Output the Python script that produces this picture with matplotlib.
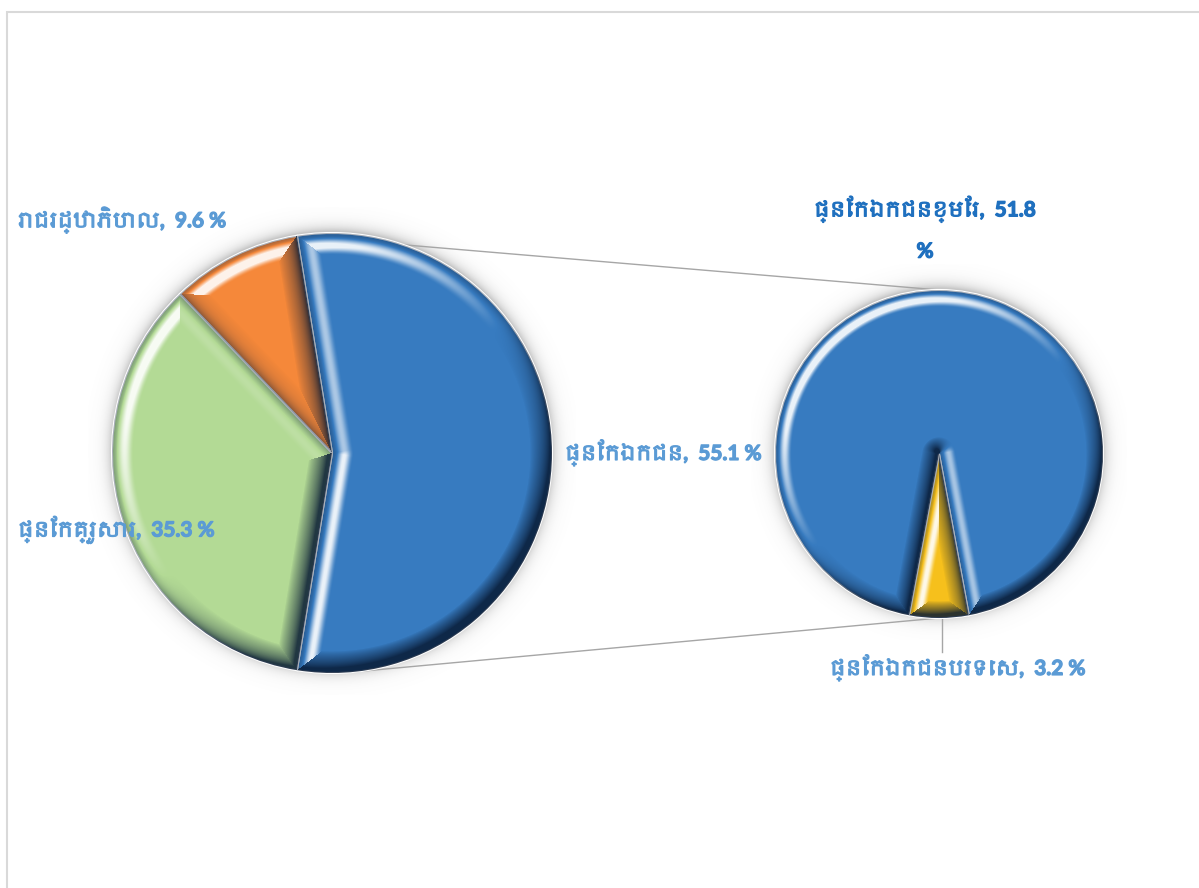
import numpy as np
import matplotlib
matplotlib.use("Agg")
import matplotlib.pyplot as plt
import matplotlib.patheffects as pe
from matplotlib import font_manager
from matplotlib.ft2font import FT2Font
from matplotlib.patches import Rectangle

# ចំណែកនៃការវិនិយោគ (%)
main_labels = ["ផ្នែកឯកជន", "រាជរដ្ឋាភិបាល", "ផ្នែកគ្រួសារ"]
main_values = [55.1, 9.6, 35.3]
main_colors = ["#377BC0", "#F5883A", "#B3DA95"]

sub_labels = ["ផ្នែកឯកជនខ្មែរ", "ផ្នែកឯកជនបរទេស"]
sub_values = [51.8, 3.2]
sub_colors = ["#377BC0", "#F6C01C"]

W, H = 1199, 888


def khmer_family():
    fonts = sorted(font_manager.fontManager.ttflist,
                   key=lambda f: "khmer" not in f.name.lower())
    for f in fonts:
        try:
            if 0x1780 in FT2Font(f.fname).get_charmap():
                return f.name
        except Exception:
            pass
    return None


kh = khmer_family()
families = ["Lato"] + ([kh] if kh else []) + ["DejaVu Sans"]


def bevel(ax, w, width, light=(-0.6, 0.8), k_hi=1.3, k_lo=1.1):
    # lighting overlay for a raised bevel along the wedge outline
    cx, cy = w.center
    r = w.r
    t1, t2 = np.radians(w.theta1), np.radians(w.theta2)
    xs = np.arange(np.floor(cx - r), np.ceil(cx + r)) + 0.5
    ys = np.arange(np.floor(cy - r), np.ceil(cy + r)) + 0.5
    X, Y = np.meshgrid(xs, ys)
    px, py = X - cx, Y - cy
    rho = np.hypot(px, py) + 1e-9
    dist = r - rho
    nx, ny = px / rho, py / rho
    for t, sgn in ((t1, 1), (t2, -1)):
        ux, uy = np.cos(t), np.sin(t)
        proj = px * ux + py * uy
        perp = np.abs(px * uy - py * ux)
        d = np.where(proj > 0, perp, rho)
        ex = np.where(proj > 0, sgn * uy, -px / rho)
        ey = np.where(proj > 0, -sgn * ux, -py / rho)
        closer = d < dist
        dist = np.where(closer, d, dist)
        nx = np.where(closer, ex, nx)
        ny = np.where(closer, ey, ny)
    lx, ly = np.array(light) / np.hypot(*light)
    s = np.clip(1 - dist / width, 0, 1)
    # rounded profile: brightest streak a little inside the rim
    ridge = np.sin(np.pi * np.clip(s * 1.15, 0, 1)) ** 2
    dot = nx * lx + ny * ly
    shade = np.where(dot > 0, dot * ridge, dot * s ** 0.8) - 0.35 * s ** 4
    rgba = np.zeros(X.shape + (4,))
    pos = shade > 0
    rgba[pos, :3] = 1.0
    rgba[pos, 3] = np.clip(shade[pos] * k_hi, 0, 0.9)
    rgba[~pos, :3] = (0.03, 0.1, 0.2)
    rgba[~pos, 3] = np.clip(-shade[~pos] * k_lo, 0, 0.85)
    im = ax.imshow(rgba, extent=(xs[0] - 0.5, xs[-1] + 0.5, ys[0] - 0.5, ys[-1] + 0.5),
                   origin="lower", interpolation="bilinear", zorder=w.get_zorder() + 0.5)
    im.set_clip_path(w)


def glow(ax, center, r, spread=6, dy=2):
    cx, cy = center[0], center[1] + dy
    pad = 4 * spread
    xs = np.arange(np.floor(cx - r - pad), np.ceil(cx + r + pad)) + 0.5
    ys = np.arange(np.floor(cy - r - pad), np.ceil(cy + r + pad)) + 0.5
    X, Y = np.meshgrid(xs, ys)
    d = np.hypot(X - cx, Y - cy) - r
    rgba = np.zeros(X.shape + (4,))
    rgba[..., :3] = 0.45
    rgba[..., 3] = np.where(d > 0, 0.4 * np.exp(-d / spread), 0.4)
    ax.imshow(rgba, extent=(xs[0] - 0.5, xs[-1] + 0.5, ys[0] - 0.5, ys[-1] + 0.5),
              origin="lower", interpolation="bilinear", zorder=0.5)


fig = plt.figure(figsize=(W / 100, H / 100), dpi=100)
ax = fig.add_axes([0, 0, 1, 1])

c_main, r_main = (332, 435), 220
c_sub, r_sub = (939, 434), 164

# main pie: private sector centred on the right
main_share = np.array(main_values) / sum(main_values)
start_main = -main_share[0] * 180
wm, _ = ax.pie(main_values, colors=main_colors, center=c_main, radius=r_main,
               startangle=start_main, explode=[0, 0.015, 0],
               wedgeprops=dict(edgecolor="white", linewidth=1.5))

# secondary pie: split of the private sector, foreign part at the bottom
sub_share = np.array(sub_values) / sum(sub_values)
start_sub = 270 - 360 * sub_share[0] - 180 * sub_share[1]
ws, _ = ax.pie(sub_values, colors=sub_colors, center=c_sub, radius=r_sub,
               startangle=start_sub, explode=[0, 0.02],
               wedgeprops=dict(edgecolor="white", linewidth=1.5))

for w in wm:
    w.set_zorder(2)
    bevel(ax, w, 22)
for w in ws:
    w.set_zorder(2)
    bevel(ax, w, 17)

glow(ax, c_main, r_main)
glow(ax, c_sub, r_sub)

# connector lines between the pies
a_top = np.radians(wm[0].theta2)
a_bot = np.radians(-85)
for a_l, a_r in ((a_top, np.pi / 2), (a_bot, -np.pi / 2)):
    ax.plot([c_main[0] + r_main * np.cos(a_l), c_sub[0] + r_sub * np.cos(a_r)],
            [c_main[1] + r_main * np.sin(a_l), c_sub[1] + r_sub * np.sin(a_r)],
            color="#A6A6A6", lw=1.0, zorder=0.8)

# leader line for the foreign private sector label
gold = ws[1]
gx = gold.center[0]
gy = gold.center[1] - gold.r
ax.plot([gx + 3, gx + 3], [gy, gy - 34], color="#A6A6A6", lw=1.0, zorder=1)


def label(x, y, s, color, ha="left", **kw):
    ax.text(x, y, s, color=color, ha=ha, fontsize=15, fontweight="bold",
            family=families, va="center", zorder=5,
            path_effects=[pe.withStroke(linewidth=0.9, foreground=color)], **kw)


lab_color = "#5B9BD5"
label(18, 668, f"{main_labels[1]},  {main_values[1]} %", lab_color)
label(18, 358, f"{main_labels[2]},  {main_values[2]} %", lab_color)
label(565, 435, f"{main_labels[0]},  {main_values[0]} %", lab_color)
label(925, 659, f"{sub_labels[0]},  {sub_values[0]}\n%", "#1F70BF", ha="center",
      linespacing=2.2, multialignment="center")
label(830, 220, f"{sub_labels[1]},  {sub_values[1]} %", lab_color)

# chart area frame
ax.add_patch(Rectangle((7, -20), W + 20, H - 12 + 20, fill=False,
                       edgecolor="#D9D9D9", lw=1.5, zorder=0))

ax.set_xlim(0, W)
ax.set_ylim(0, H)
ax.set_aspect("equal")
ax.axis("off")
fig.savefig("out.png", dpi=100)
